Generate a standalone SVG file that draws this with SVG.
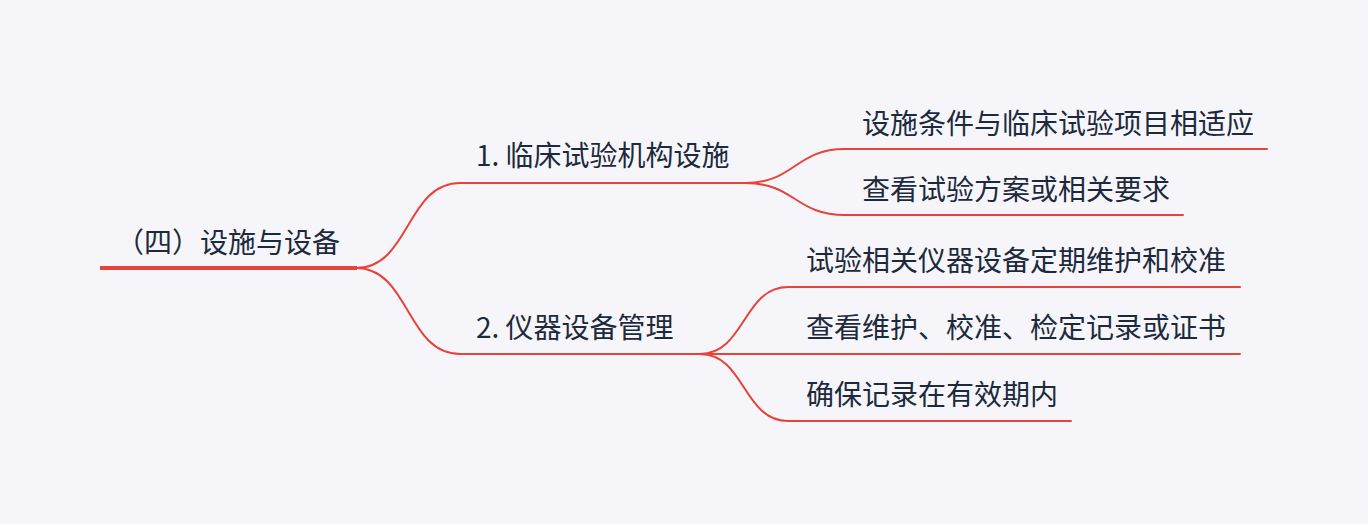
<svg xmlns="http://www.w3.org/2000/svg" width="1368" height="524" viewBox="0 0 1368 524">
<style>
.bg{fill:#f6f6fa}
text{font-family:"Noto Sans CJK SC","Noto Sans",sans-serif;font-size:28px;fill:#1d2a3d}
.ln{fill:none;stroke:#e8433a;stroke-width:2;stroke-linecap:round}
.root{fill:none;stroke:#e8433a;stroke-width:4}
</style>
<rect class="bg" x="0" y="0" width="1368" height="524"/>
<g id="connectors">
<path class="ln" d="M356,268 C410,268 406,183 460,183"/>
<path class="ln" d="M356,268 C410,268 406,354 460,354"/>
<path class="ln" d="M745,183 C795,183 795,149 845,149"/>
<path class="ln" d="M745,183 C795,183 795,215 845,215"/>
<path class="ln" d="M700,354 C745,354 743,287 788,287"/>
<path class="ln" d="M700,354 L788,354"/>
<path class="ln" d="M700,354 C745,354 743,421 788,421"/>
</g>
<g id="root">
<line class="root" x1="100" y1="268" x2="357" y2="268"/>
<text x="116" y="253">（四）设施与设备</text>
</g>
<g id="n1">
<line class="ln" x1="460" y1="183" x2="745" y2="183"/>
<text x="476" y="166">1. 临床试验机构设施</text>
</g>
<g id="n2">
<line class="ln" x1="460" y1="354" x2="700" y2="354"/>
<text x="476" y="338">2. 仪器设备管理</text>
</g>
<g id="n11">
<line class="ln" x1="845" y1="149" x2="1267" y2="149"/>
<text x="862" y="134">设施条件与临床试验项目相适应</text>
</g>
<g id="n12">
<line class="ln" x1="845" y1="215" x2="1183" y2="215"/>
<text x="862" y="200">查看试验方案或相关要求</text>
</g>
<g id="n21">
<line class="ln" x1="788" y1="287" x2="1240" y2="287"/>
<text x="806" y="271">试验相关仪器设备定期维护和校准</text>
</g>
<g id="n22">
<line class="ln" x1="788" y1="354" x2="1240" y2="354"/>
<text x="806" y="338">查看维护、校准、检定记录或证书</text>
</g>
<g id="n23">
<line class="ln" x1="788" y1="421" x2="1071" y2="421"/>
<text x="806" y="405">确保记录在有效期内</text>
</g>
</svg>
